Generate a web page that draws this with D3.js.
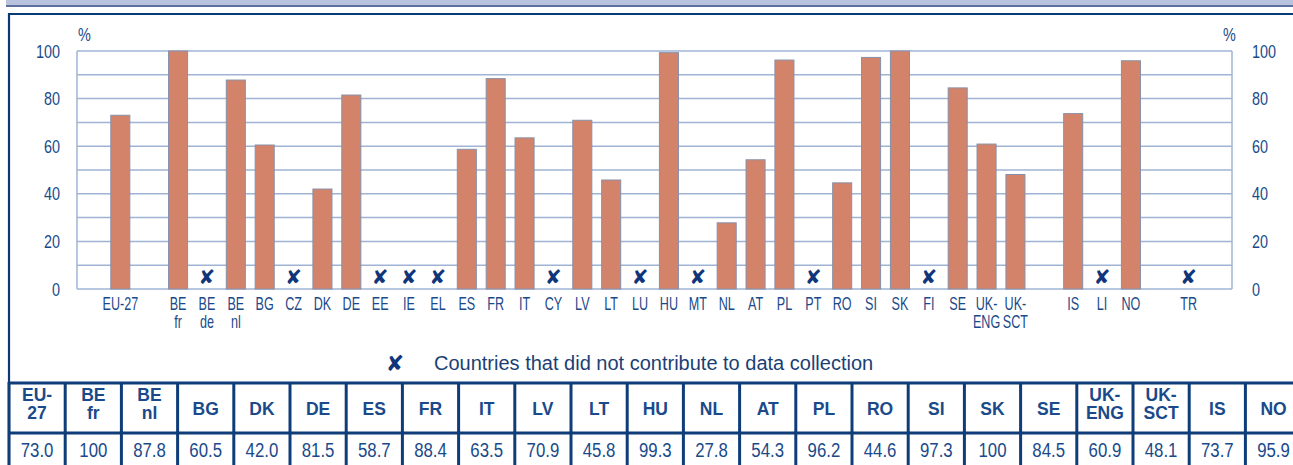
<!DOCTYPE html>
<html><head><meta charset="utf-8">
<script src="https://cdn.jsdelivr.net/npm/d3@7"></script>
<style>
html,body{margin:0;padding:0;background:#fff;}
svg{display:block;}
</style></head>
<body>
<svg id="c" width="1293" height="465"></svg>
<script>
// ---- data ----
const categories = ["", "EU-27", "", "BE\nfr", "BE\nde", "BE\nnl", "BG", "CZ", "DK", "DE", "EE", "IE", "EL", "ES", "FR", "IT", "CY", "LV", "LT", "LU", "HU", "MT", "NL", "AT", "PL", "PT", "RO", "SI", "SK", "FI", "SE", "UK-\nENG", "UK-\nSCT", "", "IS", "LI", "NO", "", "TR", ""];
const values = [null, 73.0, null, 100, null, 87.8, 60.5, null, 42.0, 81.5, null, null, null, 58.7, 88.4, 63.5, null, 70.9, 45.8, null, 99.3, null, 27.8, 54.3, 96.2, null, 44.6, 97.3, 100, null, 84.5, 60.9, 48.1, null, 73.7, null, 95.9, null, null, null];
const notContributing = ["BE\nde", "CZ", "EE", "IE", "EL", "CY", "LU", "MT", "PT", "FI", "LI", "TR"];
const yTicks = [0, 20, 40, 60, 80, 100];
const tableHeaders = ["EU-\n27", "BE\nfr", "BE\nnl", "BG", "DK", "DE", "ES", "FR", "IT", "LV", "LT", "HU", "NL", "AT", "PL", "RO", "SI", "SK", "SE", "UK-\nENG", "UK-\nSCT", "IS", "NO"];
const tableValues = ["73.0", "100", "87.8", "60.5", "42.0", "81.5", "58.7", "88.4", "63.5", "70.9", "45.8", "99.3", "27.8", "54.3", "96.2", "44.6", "97.3", "100", "84.5", "60.9", "48.1", "73.7", "95.9"];
const legendText = "Countries that did not contribute to data collection";

// ---- drawing ----
const svg = d3.select("#c");
const navy = "#0e3d7a", labelBlue = "#1b4a8a", grid = "#9fb4d4";
const sans = "'Liberation Sans',Arial,sans-serif";

function narrowText(sel, px, py, str, size, anchor, sx) {
  return sel.append("text")
    .attr("transform", `translate(${px},${py}) scale(${sx || 0.8},1)`)
    .attr("text-anchor", anchor || "middle")
    .attr("font-family", sans).attr("font-size", size).attr("fill", labelBlue)
    .text(str);
}

// header band and frame
svg.append("rect").attr("x", 6).attr("y", 0).attr("width", 1287).attr("height", 5).attr("fill", "#b9c2dd");
svg.append("rect").attr("x", 6).attr("y", 5).attr("width", 1287).attr("height", 2).attr("fill", "#5d6f9f");
svg.append("line").attr("x1", 8).attr("x2", 1293).attr("y1", 14).attr("y2", 14).attr("stroke", "#0a3a75").attr("stroke-width", 2.2);
svg.append("line").attr("x1", 9).attr("x2", 9).attr("y1", 13).attr("y2", 465).attr("stroke", "#0a3a75").attr("stroke-width", 2.2);

const x = d3.scaleBand().domain(d3.range(categories.length)).range([77, 1232]).paddingInner(0.34).paddingOuter(0.17);
const y = d3.scaleLinear().domain([0, 100]).range([289, 51]);

// gridlines every 10
const g = svg.append("g");
g.selectAll("line.h").data(y.ticks(10)).join("line")
  .attr("x1", 77).attr("x2", 1232).attr("y1", d => y(d)).attr("y2", d => y(d))
  .attr("stroke", grid).attr("stroke-width", 1.5);
g.append("line").attr("x1", 77).attr("x2", 77).attr("y1", y(100)).attr("y2", y(0)).attr("stroke", grid).attr("stroke-width", 1.5);
g.append("line").attr("x1", 1232).attr("x2", 1232).attr("y1", y(100)).attr("y2", y(0)).attr("stroke", grid).attr("stroke-width", 1.5);

// bars
const idx = d3.range(categories.length).filter(i => values[i] != null);
svg.append("g").selectAll("rect").data(idx).join("rect")
  .attr("x", i => x(i)).attr("width", x.bandwidth())
  .attr("y", i => y(values[i])).attr("height", i => y(0) - y(values[i]))
  .attr("fill", "#d4836b").attr("stroke", "#8890a8").attr("stroke-width", 1);

// X marks
const xIdx = d3.range(categories.length).filter(i => notContributing.includes(categories[i]));
svg.append("g").selectAll("text").data(xIdx).join("text")
  .attr("x", i => x(i) + x.bandwidth() / 2).attr("y", 284)
  .attr("text-anchor", "middle").attr("font-family", "'DejaVu Sans',sans-serif")
  .attr("font-size", 20).attr("font-weight", "bold").attr("fill", "#10357a").text("\u2718");

// y tick labels (left & right) and % units
const yl = svg.append("g");
yTicks.forEach(v => {
  narrowText(yl, 60, y(v) + 6.5, String(v), 18, "end");
  narrowText(yl, 1252, y(v) + 6.5, String(v), 18, "start");
});
narrowText(svg, 78, 41, "%", 18, "start");
narrowText(svg, 1223, 41, "%", 18, "start");

// x labels
const xl = svg.append("g");
d3.range(categories.length).filter(i => categories[i] !== "").forEach(i => {
  categories[i].split("\n").forEach((line, k) => {
    narrowText(xl, x(i) + x.bandwidth() / 2, 310 + k * 18, line, 18, "middle", 0.7);
  });
});

// legend
svg.append("text").attr("x", 395).attr("y", 371).attr("text-anchor", "middle").attr("font-family", "'DejaVu Sans',sans-serif")
  .attr("font-size", 22).attr("font-weight", "bold").attr("fill", "#10357a").text("\u2718");
svg.append("text").attr("x", 434).attr("y", 370).attr("font-family", sans).attr("font-size", 20).attr("fill", "#1b3f75").text(legendText);

// table
const tx = d3.scaleBand().domain(tableHeaders).range([9, 9 + 23 * 56.2]);
const t = svg.append("g");
t.append("line").attr("x1", 8).attr("x2", 1293).attr("y1", 383).attr("y2", 383).attr("stroke", navy).attr("stroke-width", 3);
t.append("line").attr("x1", 8).attr("x2", 1293).attr("y1", 433).attr("y2", 433).attr("stroke", navy).attr("stroke-width", 3);
t.selectAll("line.v").data(tableHeaders).join("line")
  .attr("x1", d => tx(d)).attr("x2", d => tx(d)).attr("y1", 382).attr("y2", 465)
  .attr("stroke", navy).attr("stroke-width", 3);
tableHeaders.forEach(d => {
  const lines = d.split("\n");
  const cx = tx(d) + tx.bandwidth() / 2;
  const y0 = lines.length === 1 ? 415 : 401;
  lines.forEach((s, k) => {
    t.append("text").attr("x", cx).attr("y", y0 + k * 17.5)
      .attr("text-anchor", "middle").attr("font-family", sans).attr("font-size", 17.5)
      .attr("font-weight", "bold").attr("fill", "#1a4a8a").text(s);
  });
});
tableValues.forEach((d, k) => {
  narrowText(t, tx(tableHeaders[k]) + tx.bandwidth() / 2, 457, d, 21, "middle").attr("fill", "#1a4a8a");
});
</script>
</body></html>
